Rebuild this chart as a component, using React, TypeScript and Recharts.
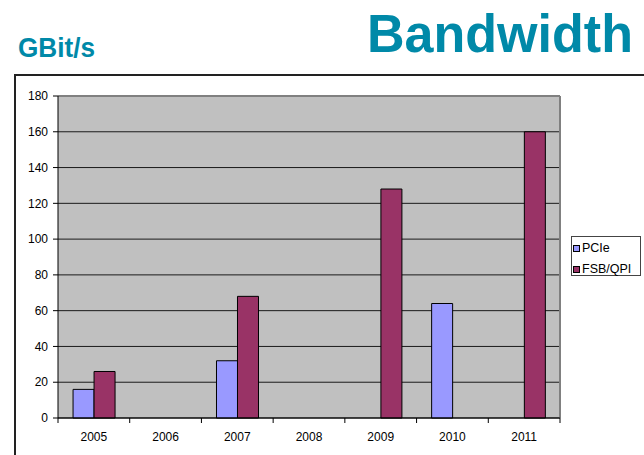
import { BarChart, Bar, XAxis, YAxis, CartesianGrid, Legend } from "recharts";

const years = ["2005", "2006", "2007", "2008", "2009", "2010", "2011"];
const pcie = [16, null, 32, null, null, 64, null];
const fsbQpi = [26, null, 68, null, 128, null, 160];
const yTicks = [0, 20, 40, 60, 80, 100, 120, 140, 160, 180];
const seriesNames = ["PCIe", "FSB/QPI"];

const data = years.map((year, i) => ({ year, pcie: pcie[i], fsb: fsbQpi[i] }));

const font = '"Liberation Sans", Arial, sans-serif';
const teal = "#0089A8";

// Excel-style category axis: ticks sit between categories, labels centered
const YearTick = (props: any) => {
  const { x, y, payload, index, visibleTicksCount } = props;
  const half = payload.offset ?? 0;
  return (
    <g>
      <line x1={x - half} x2={x - half} y1={y} y2={y + 5} stroke="#000" />
      {index === visibleTicksCount - 1 && (
        <line x1={x + half} x2={x + half} y1={y} y2={y + 5} stroke="#000" />
      )}
      <text x={x} y={y + 23} textAnchor="middle" fontSize={12} fill="#000" fontFamily={font}>
        {payload.value}
      </text>
    </g>
  );
};

const LegendBox = (props: any) => {
  const items = [...(props.payload || [])].sort(
    (a: any, b: any) => seriesNames.indexOf(a.value) - seriesNames.indexOf(b.value)
  );
  return (
    <div
      style={{
        width: 70,
        height: 40,
        boxSizing: "border-box",
        border: "1px solid #444",
        background: "#fff",
        position: "relative",
        fontFamily: font,
        fontSize: 12.5,
        color: "#000",
      }}
    >
      {items.map((it: any, i: number) => (
        <div
          key={it.value}
          style={{
            position: "absolute",
            left: 1,
            top: 4 + i * 21,
            height: 14,
            display: "flex",
            alignItems: "center",
            whiteSpace: "nowrap",
          }}
        >
          <span
            style={{
              display: "inline-block",
              width: 5,
              height: 5,
              background: it.color,
              border: "1px solid #000",
              marginRight: 2,
            }}
          />
          {it.value}
        </div>
      ))}
    </div>
  );
};

export default function App() {
  return (
    <div
      style={{
        position: "absolute",
        left: 0,
        top: 0,
        width: 644,
        height: 455,
        overflow: "hidden",
        background: "#fff",
        fontFamily: font,
      }}
    >
      <svg width={644} height={80} style={{ position: "absolute", left: 0, top: 0 }}>
        <text x={18} y={56.7} fill={teal} fontSize={27} fontWeight="bold" fontFamily={font} textLength={77} lengthAdjust="spacingAndGlyphs">
          GBit/s
        </text>
        <text x={367} y={51.7} fill={teal} fontSize={54} fontWeight="bold" fontFamily={font} textLength={266} lengthAdjust="spacingAndGlyphs">
          Bandwidth
        </text>
      </svg>
      <div
        style={{
          position: "absolute",
          left: 14,
          top: 74,
          width: 700,
          height: 500,
          border: "2px solid #222",
        }}
      />
      <div style={{ position: "absolute", left: 0, top: 0 }}>
        <BarChart
          width={644}
          height={455}
          data={data}
          margin={{ top: 96, right: 14, bottom: 17, left: 8 }}
          barCategoryGap="21%"
          barGap={0}
        >
          <CartesianGrid vertical={false} fill="#C0C0C0" stroke="#1a1a1a" fillOpacity={1} />
          <CartesianGrid
            stroke="#808080"
            strokeWidth={2}
            horizontalCoordinatesGenerator={({ offset }: any) => [offset.top]}
            verticalCoordinatesGenerator={({ offset }: any) => [offset.left + offset.width]}
          />
          <XAxis
            dataKey="year"
            height={20}
            tickLine={false}
            tickSize={0}
            tickMargin={0}
            stroke="#000"
            tick={<YearTick />}
            interval={0}
          />
          <YAxis
            width={50}
            domain={[0, 180]}
            ticks={yTicks}
            tickSize={5}
            tickMargin={5}
            stroke="#000"
            tick={{ fill: "#000", fontSize: 12, fontFamily: font }}
            interval={0}
          />
          <Legend
            layout="vertical"
            align="right"
            verticalAlign="middle"
            width={70}
            content={<LegendBox />}
            wrapperStyle={{ left: 571, top: 236, width: 70 }}
          />
          <Bar dataKey="pcie" name="PCIe" fill="#9999FF" stroke="#000" strokeWidth={1} isAnimationActive={false} />
          <Bar dataKey="fsb" name="FSB/QPI" fill="#993366" stroke="#000" strokeWidth={1} isAnimationActive={false} />
        </BarChart>
      </div>
    </div>
  );
}
